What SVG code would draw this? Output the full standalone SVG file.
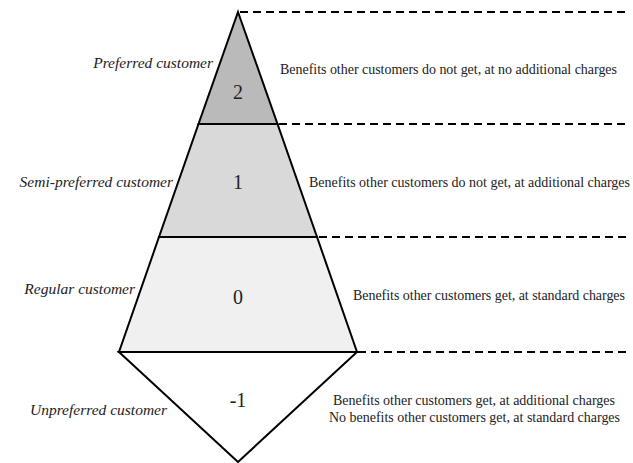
<svg xmlns="http://www.w3.org/2000/svg" width="633" height="463" viewBox="0 0 633 463">
<style>
.seg{stroke:#000;stroke-width:2;stroke-linejoin:miter}
.dash{stroke:#000;stroke-width:2.2;stroke-dasharray:8 5;fill:none}
text{font-family:'Liberation Serif','Times New Roman',Times,serif;fill:#222}
.lbl{font-style:italic;font-size:15.5px}
.num{font-size:20px;text-anchor:middle}
.desc{font-size:14px}
</style>
<rect width="633" height="463" fill="#fff"/>
<g id="connectors">
<line class="dash" x1="240" y1="12" x2="630" y2="12"/>
<line class="dash" x1="279" y1="124" x2="630" y2="124"/>
<line class="dash" x1="319" y1="237" x2="630" y2="237"/>
<line class="dash" x1="358" y1="352" x2="630" y2="352"/>
</g>
<g id="level2">
<polygon class="seg" fill="#bababa" points="238,12 277.5,124 198.5,124"/>
<text class="lbl" x="213" y="68" text-anchor="end">Preferred customer</text>
<text class="num" x="238" y="99">2</text>
<text class="desc" x="280" y="74" textLength="337" lengthAdjust="spacing">Benefits other customers do not get, at no additional charges</text>
</g>
<g id="level1">
<polygon class="seg" fill="#d9d9d9" points="198.5,124 277.5,124 317,237 159,237"/>
<text class="lbl" x="173" y="187" text-anchor="end">Semi-preferred customer</text>
<text class="num" x="238" y="189">1</text>
<text class="desc" x="309" y="187" textLength="321" lengthAdjust="spacing">Benefits other customers do not get, at additional charges</text>
</g>
<g id="level0">
<polygon class="seg" fill="#f0f0f0" points="159,237 317,237 357,352 119,352"/>
<text class="lbl" x="135" y="294" text-anchor="end">Regular customer</text>
<text class="num" x="238" y="304">0</text>
<text class="desc" x="353" y="300" textLength="272" lengthAdjust="spacing">Benefits other customers get, at standard charges</text>
</g>
<g id="levelm1">
<polygon class="seg" fill="#fff" points="119,352 357,352 238,462"/>
<text class="lbl" x="167" y="415" text-anchor="end">Unpreferred customer</text>
<text class="num" x="238" y="407">-1</text>
<text class="desc" x="333" y="405" textLength="282" lengthAdjust="spacing">Benefits other customers get, at additional charges</text>
<text class="desc" x="329" y="422" textLength="291" lengthAdjust="spacing">No benefits other customers get, at standard charges</text>
</g>
</svg>
